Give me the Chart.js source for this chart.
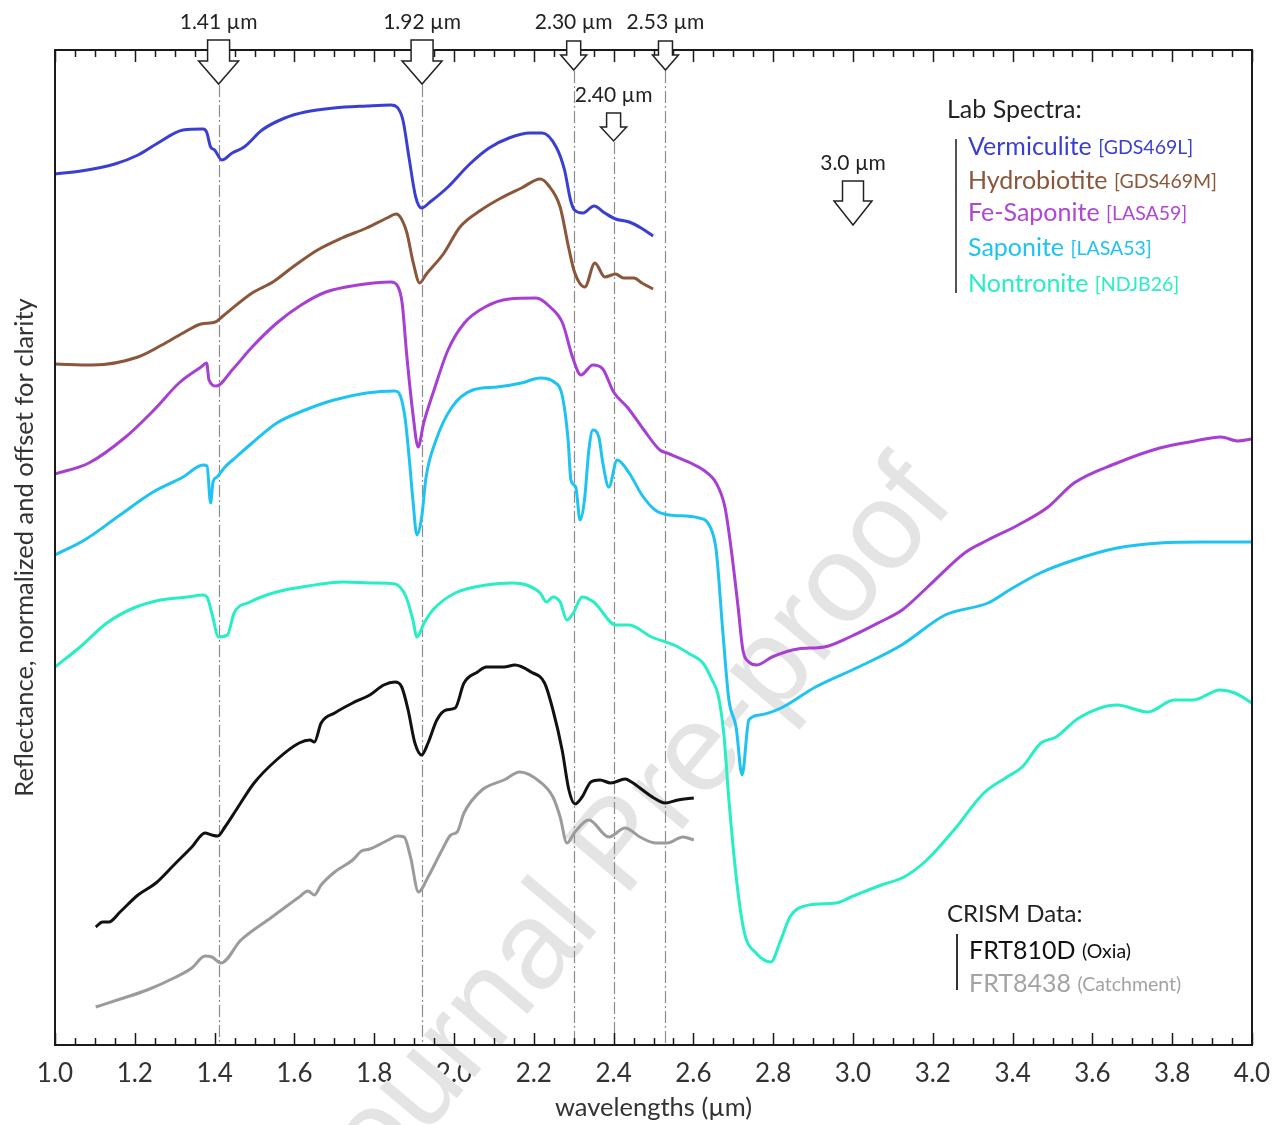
<!DOCTYPE html>
<html>
<head>
<meta charset="utf-8">
<script src="https://cdn.jsdelivr.net/npm/chart.js@4.4.0/dist/chart.umd.min.js"></script>
<style>
  html, body { margin: 0; padding: 0; background: #fff; }
</style>
</head>
<body>
<canvas id="spectra" width="1276" height="1125"></canvas>
<script>
// wavelengths in µm, reflectance in arbitrary units (normalized + offset, 0 = bottom of frame)
const vermWl = [1.00,1.065,1.150,1.208,1.258,1.321,1.371,1.380,1.390,1.400,1.418,1.444,1.474,1.519,1.576,1.627,1.699,1.781,1.842,1.857,1.872,1.887,1.904,1.919,1.940,1.985,2.037,2.088,2.138,2.190,2.221,2.256,2.277,2.292,2.302,2.323,2.351,2.378,2.405,2.439,2.469,2.499];
const vermRefl = [871,874,881,890,902,915,916,913,898,895,885,892,898,915,927,933,937,939,940,938,925,888,848,837,843,858,880,897,907,912,912,898,875,845,835,832,839,832,826,823,817,809];

const hydWl = [1.00,1.095,1.208,1.268,1.321,1.366,1.402,1.418,1.494,1.546,1.596,1.658,1.719,1.781,1.832,1.855,1.867,1.882,1.898,1.914,1.929,1.975,2.015,2.068,2.118,2.169,2.216,2.236,2.266,2.287,2.302,2.328,2.353,2.378,2.405,2.425,2.451,2.471,2.499];
const hydRefl = [681,680,688,700,712,721,723,728,752,763,778,795,807,817,827,831,827,812,782,762,770,792,818,835,847,857,866,860,838,798,773,758,782,768,771,767,767,762,756];

const fesWl = [1.00,1.085,1.177,1.248,1.311,1.366,1.380,1.386,1.404,1.444,1.494,1.556,1.617,1.679,1.759,1.842,1.860,1.870,1.882,1.898,1.910,1.924,1.950,1.985,2.026,2.078,2.138,2.206,2.241,2.272,2.297,2.318,2.348,2.373,2.400,2.436,2.476,2.516,2.534,2.593,2.625,2.657,2.679,2.695,2.712,2.724,2.739,2.759,2.797,2.862,2.927,2.992,3.068,3.123,3.187,3.283,3.338,3.414,3.489,3.554,3.662,3.769,3.857,3.922,3.965,4.00];
const fesRefl = [571,582,608,635,662,678,682,665,659,675,698,722,740,753,760,763,758,742,688,628,598,622,655,695,722,738,746,747,738,722,688,670,680,676,653,637,615,595,592,582,575,562,538,495,438,395,383,380,388,396,398,408,423,435,458,493,505,520,538,562,582,597,604,608,604,606];

const sapWl = [1.00,1.074,1.163,1.242,1.321,1.371,1.381,1.390,1.396,1.406,1.426,1.454,1.494,1.556,1.627,1.699,1.781,1.852,1.862,1.877,1.887,1.897,1.907,1.919,1.930,1.955,1.995,2.047,2.108,2.169,2.216,2.251,2.272,2.286,2.293,2.305,2.316,2.327,2.338,2.348,2.363,2.373,2.388,2.409,2.439,2.471,2.504,2.539,2.614,2.642,2.657,2.674,2.689,2.707,2.722,2.739,2.766,2.820,2.906,3.014,3.122,3.231,3.338,3.392,3.469,3.554,3.662,3.769,3.877,4.00];
const sapRefl = [490,505,530,552,568,580,579,542,563,568,578,588,602,622,635,645,652,654,652,628,590,545,510,528,568,605,638,655,658,662,667,663,648,605,565,558,525,545,595,615,608,582,558,585,572,550,535,530,527,518,495,412,345,318,270,325,330,337,358,378,400,430,442,455,472,485,497,502,503,503];

const nonWl = [1.00,1.063,1.130,1.197,1.264,1.331,1.371,1.381,1.393,1.410,1.432,1.449,1.489,1.555,1.634,1.723,1.802,1.852,1.880,1.897,1.907,1.925,1.947,2.003,2.081,2.148,2.182,2.216,2.232,2.248,2.266,2.283,2.299,2.321,2.350,2.406,2.439,2.495,2.551,2.591,2.624,2.647,2.662,2.676,2.689,2.709,2.728,2.757,2.794,2.819,2.842,2.890,2.957,2.995,3.071,3.128,3.185,3.253,3.328,3.386,3.424,3.471,3.509,3.566,3.662,3.739,3.805,3.852,3.920,3.957,4.00];
const nonRefl = [378,398,422,437,445,448,450,448,432,408,410,432,443,453,459,463,462,461,448,425,408,422,435,452,460,462,460,452,443,448,443,425,432,448,443,420,420,408,400,391,382,365,350,312,245,162,112,92,83,105,128,140,142,148,160,168,185,215,252,268,278,302,308,327,340,333,345,345,355,352,342];

const oxiaWl = [1.102,1.119,1.135,1.163,1.208,1.253,1.298,1.343,1.376,1.393,1.408,1.426,1.454,1.499,1.555,1.612,1.639,1.650,1.667,1.701,1.746,1.789,1.824,1.852,1.869,1.885,1.902,1.919,1.935,1.957,1.980,2.003,2.025,2.059,2.081,2.125,2.153,2.193,2.227,2.248,2.271,2.288,2.303,2.321,2.343,2.366,2.393,2.429,2.445,2.466,2.501,2.529,2.561,2.601];
const oxiaRefl = [118,123,123,133,150,162,180,198,212,210,209,218,235,262,285,302,305,303,322,332,342,350,360,363,358,335,302,290,302,325,335,337,362,373,378,378,380,373,362,335,295,255,241,248,263,265,262,266,263,257,247,242,245,247];

const catchWl = [1.102,1.164,1.231,1.298,1.343,1.376,1.393,1.416,1.466,1.544,1.612,1.634,1.650,1.667,1.701,1.746,1.768,1.789,1.835,1.857,1.875,1.891,1.911,1.935,1.970,1.992,2.008,2.025,2.070,2.125,2.165,2.216,2.248,2.266,2.283,2.303,2.338,2.388,2.429,2.466,2.506,2.534,2.574,2.601];
const catchRefl = [38,46,55,67,77,89,88,82,105,128,148,154,150,160,173,185,194,196,205,209,208,188,153,168,195,210,213,232,255,265,273,263,248,228,202,213,225,208,217,208,202,202,208,205];

// absorption features marked with arrows
const markerWl = [1.41, 1.92, 2.30, 2.40, 2.53];
const markerLabels = ['1.41 µm', '1.92 µm', '2.30 µm', '2.40 µm', '2.53 µm'];
const extraMarkerWl = 3.0;
const extraMarkerLabel = '3.0 µm';

const FONT = 'Lato, "Open Sans", sans-serif';

function toPoints(wl, refl) {
    return wl.map((w, i) => ({ x: w, y: refl[i] }));
}

function spectrum(label, wl, refl, color) {
    return {
        label: label,
        data: toPoints(wl, refl),
        showLine: true,
        borderColor: color,
        backgroundColor: color,
        borderWidth: 3,
        pointRadius: 0,
        fill: false,
        cubicInterpolationMode: 'monotone',
    };
}

function drawArrow(ctx, cx, top, shaftHalf, headTop, headHalf, tip) {
    ctx.beginPath();
    ctx.moveTo(cx - shaftHalf, top);
    ctx.lineTo(cx + shaftHalf, top);
    ctx.lineTo(cx + shaftHalf, headTop);
    ctx.lineTo(cx + headHalf, headTop);
    ctx.lineTo(cx, tip);
    ctx.lineTo(cx - headHalf, headTop);
    ctx.lineTo(cx - shaftHalf, headTop);
    ctx.closePath();
    ctx.fillStyle = '#fff';
    ctx.fill();
    ctx.strokeStyle = '#222';
    ctx.lineWidth = 1.5;
    ctx.stroke();
}

function legendEntry(ctx, x, y, name, code, color) {
    ctx.fillStyle = color;
    ctx.font = '25px ' + FONT;
    ctx.fillText(name, x, y);
    const w = ctx.measureText(name + ' ').width;
    ctx.font = '19.5px ' + FONT;
    ctx.fillText(code, x + w, y + 1);
}

// arrow geometry for each marker (pixels)
const markerStyle = [
    { top: 40, shaft: 11, head: 20, headDrop: 21, tipDrop: 44, labelY: 22 },
    { top: 40, shaft: 11, head: 20, headDrop: 21, tipDrop: 44, labelY: 22 },
    { top: 41, shaft: 7, head: 13, headDrop: 14, tipDrop: 29, labelY: 22 },
    { top: 113, shaft: 7, head: 13, headDrop: 14, tipDrop: 28, labelY: 95 },
    { top: 41, shaft: 7, head: 13, headDrop: 14, tipDrop: 29, labelY: 22 },
];

const marks = {
    id: 'marks',
    beforeDatasetsDraw(chart) {
        const { ctx, chartArea: a, scales: { x } } = chart;

        // watermark
        ctx.save();
        ctx.translate(622, 848);
        ctx.rotate(-50 * Math.PI / 180);
        ctx.font = '124px "Liberation Sans", Arial, sans-serif';
        ctx.fillStyle = '#e4e4e4';
        ctx.textAlign = 'center';
        ctx.textBaseline = 'middle';
        ctx.fillText('Journal Pre-proof', 0, 0);
        ctx.restore();

        // dash-dot guide lines
        ctx.save();
        ctx.strokeStyle = '#8c8c8c';
        ctx.lineWidth = 1.2;
        ctx.setLineDash([12, 3, 2, 3]);
        markerWl.forEach((w, i) => {
            const px = Math.round(x.getPixelForValue(w)) + 0.5;
            const s = markerStyle[i];
            ctx.beginPath();
            ctx.moveTo(px, s.top + s.tipDrop + 1);
            ctx.lineTo(px, a.bottom);
            ctx.stroke();
        });
        ctx.restore();
    },
    afterDraw(chart) {
        const { ctx, chartArea: a, scales: { x } } = chart;
        ctx.save();

        // frame
        ctx.strokeStyle = '#1a1a1a';
        ctx.lineWidth = 2;
        ctx.strokeRect(a.left, a.top, a.right - a.left, a.bottom - a.top);

        // inward ticks, top and bottom
        ctx.lineWidth = 1.5;
        for (let i = 0; i <= 60; i++) {
            const px = Math.round(x.getPixelForValue(1 + i * 0.05)) + 0.5;
            const len = i % 4 === 0 ? 12 : 7;
            ctx.beginPath();
            ctx.moveTo(px, a.bottom);
            ctx.lineTo(px, a.bottom - len);
            ctx.moveTo(px, a.top);
            ctx.lineTo(px, a.top + len);
            ctx.stroke();
        }

        // arrows + labels
        ctx.textAlign = 'center';
        ctx.textBaseline = 'middle';
        markerWl.forEach((w, i) => {
            const px = x.getPixelForValue(w);
            const s = markerStyle[i];
            drawArrow(ctx, px, s.top, s.shaft, s.top + s.headDrop, s.head, s.top + s.tipDrop);
            ctx.fillStyle = '#222';
            ctx.font = '21px ' + FONT;
            ctx.fillText(markerLabels[i], px, s.labelY);
        });
        const p3 = x.getPixelForValue(extraMarkerWl);
        drawArrow(ctx, p3, 181, 10.5, 201, 19, 225);
        ctx.fillStyle = '#222';
        ctx.font = '21px ' + FONT;
        ctx.fillText(extraMarkerLabel, p3, 163);

        // legend blocks
        ctx.textAlign = 'left';
        ctx.fillStyle = '#222';
        ctx.font = '25px ' + FONT;
        ctx.fillText('Lab Spectra:', 947, 110);
        ctx.strokeStyle = '#555';
        ctx.lineWidth = 2;
        ctx.beginPath();
        ctx.moveTo(956, 139);
        ctx.lineTo(956, 293);
        ctx.stroke();
        legendEntry(ctx, 968, 147, 'Vermiculite', '[GDS469L]', '#3b3fd1');
        legendEntry(ctx, 968, 181, 'Hydrobiotite', '[GDS469M]', '#8b5639');
        legendEntry(ctx, 968, 213, 'Fe-Saponite', '[LASA59]', '#b045d6');
        legendEntry(ctx, 968, 248, 'Saponite', '[LASA53]', '#1ec3f2');
        legendEntry(ctx, 968, 284, 'Nontronite', '[NDJB26]', '#27eec4');

        ctx.fillStyle = '#222';
        ctx.font = '24px ' + FONT;
        ctx.fillText('CRISM Data:', 947, 914);
        ctx.strokeStyle = '#333';
        ctx.beginPath();
        ctx.moveTo(957, 934);
        ctx.lineTo(957, 990);
        ctx.stroke();
        legendEntry(ctx, 969, 951, 'FRT810D', '(Oxia)', '#111');
        legendEntry(ctx, 969, 984, 'FRT8438', '(Catchment)', '#a3a3a3');

        ctx.restore();
    }
};

const ctx = document.getElementById('spectra').getContext('2d');

new Chart(ctx, {
    type: 'scatter',
    data: {
        datasets: [
            spectrum('Vermiculite', vermWl, vermRefl, '#3b3fd1'),
            spectrum('Hydrobiotite', hydWl, hydRefl, '#8b5639'),
            spectrum('Fe-Saponite', fesWl, fesRefl, '#a73fd3'),
            spectrum('Saponite', sapWl, sapRefl, '#1ec3f2'),
            spectrum('Nontronite', nonWl, nonRefl, '#27eec4'),
            spectrum('FRT810D', oxiaWl, oxiaRefl, '#111111'),
            spectrum('FRT8438', catchWl, catchRefl, '#9b9b9b'),
        ],
    },
    options: {
        responsive: false,
        animation: false,
        devicePixelRatio: 1,
        layout: { padding: { top: 50, right: 24, left: 0, bottom: 0 } },
        plugins: {
            legend: { display: false },
            tooltip: { enabled: false },
        },
        scales: {
            x: {
                type: 'linear',
                min: 1,
                max: 4,
                grid: { display: false, drawTicks: false },
                border: { display: false },
                ticks: {
                    stepSize: 0.2,
                    padding: 13,
                    autoSkip: false,
                    maxRotation: 0,
                    color: '#333',
                    font: { family: FONT, size: 26 },
                    callback: (v) => Number(v).toFixed(1),
                },
                title: {
                    display: true,
                    text: 'wavelengths (µm)',
                    color: '#333',
                    font: { family: FONT, size: 25.5 },
                    padding: { top: 0, bottom: 2 },
                },
                afterFit: (axis) => {
                    axis.height = 80;
                    axis.paddingLeft = 0;
                    axis.paddingRight = 0;
                },
            },
            y: {
                min: 0,
                max: 995,
                grid: { display: false, drawTicks: false },
                border: { display: false },
                ticks: { display: false },
                title: {
                    display: true,
                    text: 'Reflectance, normalized and offset for clarity',
                    color: '#333',
                    font: { family: FONT, size: 25.5 },
                    padding: { top: 9, bottom: 0 },
                },
                afterFit: (axis) => { axis.width = 55; },
            },
        },
    },
    plugins: [marks],
});
</script>
</body>
</html>
